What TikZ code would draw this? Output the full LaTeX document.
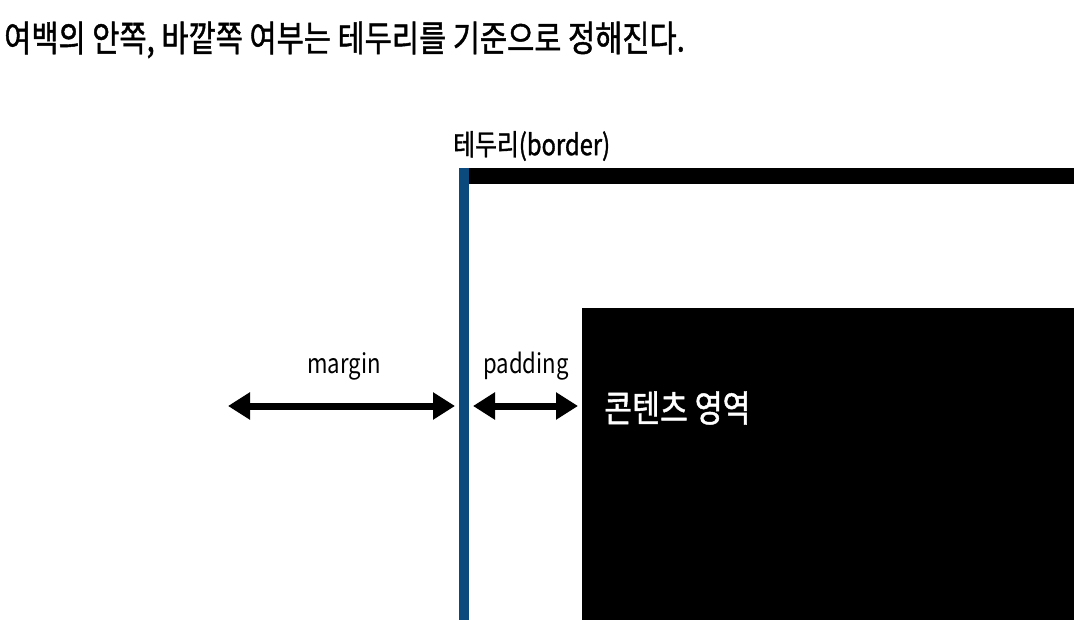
\documentclass[tikz,border=0pt]{standalone}
\usepackage{fontspec}
\setmainfont{Noto Sans CJK KR}[FakeStretch=0.82]
\newfontfamily\medfont{Noto Sans CJK KR}[FakeStretch=0.82,FakeBold=1.2]
\usetikzlibrary{arrows.meta}
\definecolor{borderblue}{HTML}{0B4A7C}
\tikzset{
  dimarrow/.style={line width=7pt, {Triangle[length=22pt,width=26pt]}-{Triangle[length=22pt,width=26pt]}},
  lbl/.style={inner sep=0pt, font=\fontsize{27}{30}\selectfont}
}
\begin{document}
\begin{tikzpicture}[x=1pt,y=-1pt]
\useasboundingbox (0,0) rectangle (1074,620);
\fill[white] (0,0) rectangle (1074,620);
% title
\node[anchor=west, inner sep=0pt, font=\fontsize{36}{40}\medfont] (title) at (4,40) {여백의 안쪽, 바깥쪽 여부는 테두리를 기준으로 정해진다.};
% border label
\node[lbl, anchor=west, font=\fontsize{29}{32}\medfont] (blabel) at (453,146) {테두리(border)};
% top border (black)
\fill[black] (462,168) rectangle (1074,184);
% left border (blue)
\fill[borderblue] (459,168) rectangle (469,620);
% content box
\node[fill=black, inner sep=0pt, minimum width=492pt, minimum height=312pt, anchor=north west] (content) at (582,308) {};
\node[lbl, text=white, anchor=west, font=\fontsize{37}{40}\medfont] (ctext) at (604,408) {콘텐츠 영역};
% arrows
\coordinate (mL) at (228,406);
\coordinate (mR) at (455,406);
\coordinate (pL) at (473,406);
\coordinate (pR) at (578,406);
\draw[dimarrow] (mL) -- (mR);
\draw[dimarrow] (pL) -- (pR);
\node[lbl] (mlabel) at (344,366) {margin};
\node[lbl] (plabel) at (526,366) {padding};
\end{tikzpicture}
\end{document}
